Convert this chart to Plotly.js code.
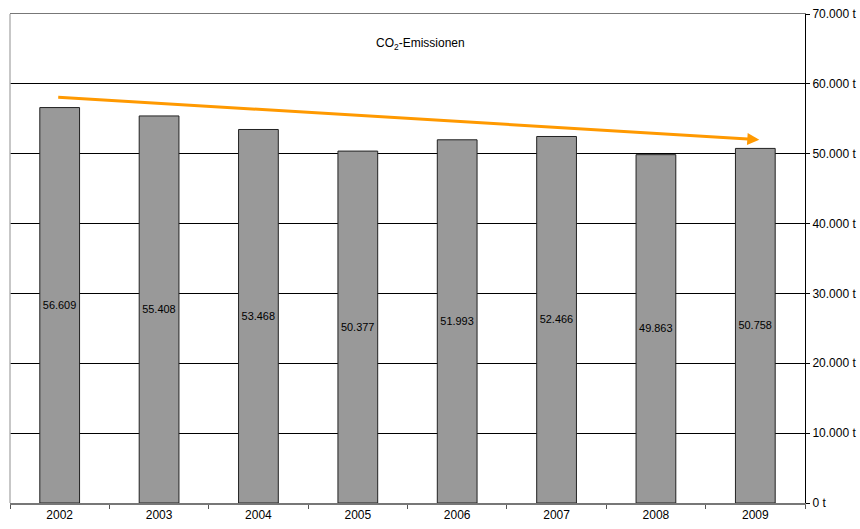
<!DOCTYPE html>
<html>
<head>
<meta charset="utf-8">
<script src="https://cdn.plot.ly/plotly-3.0.1.min.js"></script>
<style>html,body{margin:0;padding:0;background:#fff;}#chart{width:860px;height:529px;}</style>
</head>
<body>
<div id="chart"></div>
<script>
const years = ['2002','2003','2004','2005','2006','2007','2008','2009'];
const emissions = [56609, 55408, 53468, 50377, 51993, 52466, 49863, 50758];
const trendX = [-0.03, 7.04];
const trendY = [58100, 52000];
const yTicks = [0, 10000, 20000, 30000, 40000, 50000, 60000, 70000];
const yTickLabels = ['0 t', '10.000 t', '20.000 t', '30.000 t', '40.000 t', '50.000 t', '60.000 t', '70.000 t'];
const barLabels = ['56.609', '55.408', '53.468', '50.377', '51.993', '52.466', '49.863', '50.758'];

const font = {family: 'Liberation Sans, Arial, sans-serif', size: 12, color: '#000'};

const data = [{
  type: 'bar',
  x: years,
  y: emissions,
  marker: {color: '#999999', line: {color: '#222', width: 1}},
  text: barLabels,
  texttemplate: '%{text}',
  textposition: 'inside',
  insidetextanchor: 'middle',
  textangle: 0,
  textfont: {family: font.family, size: 12, color: '#000'},
  hoverinfo: 'none'
}];

const layout = {
  width: 860, height: 529,
  margin: {l: 10, r: 55, t: 14, b: 26},
  paper_bgcolor: '#fff', plot_bgcolor: '#fff',
  font: font,
  bargap: 0.6,
  showlegend: false,
  xaxis: {
    type: 'category',
    tickson: 'boundaries',
    ticks: 'outside', ticklen: 4, tickcolor: '#555',
    showline: true, linecolor: '#777', linewidth: 1.5,
    mirror: true,
    showgrid: false,
    tickfont: {family: font.family, size: 12, color: '#000'}
  },
  yaxis: {
    side: 'right',
    range: [0, 70000],
    tickmode: 'array',
    tickvals: yTicks,
    ticktext: yTickLabels,
    ticks: 'outside', ticklen: 4, tickcolor: '#000',
    showline: true, linecolor: '#000', linewidth: 1,
    showgrid: true, gridcolor: '#000', gridwidth: 1,
    zeroline: false,
    tickfont: {family: font.family, size: 12, color: '#000'}
  },
  shapes: [{
    type: 'line', xref: 'paper', yref: 'paper', x0: 0, x1: 0, y0: 0, y1: 1,
    line: {color: '#b5b5b5', width: 1.5}
  }],
  annotations: [{
    xref: 'paper', yref: 'paper', x: 0.516, y: 0.96,
    text: 'CO<sub>2</sub>-Emissionen', showarrow: false,
    font: {family: font.family, size: 12, color: '#000'}
  }, {
    x: trendX[1], y: trendY[1], xref: 'x', yref: 'y',
    ax: trendX[0], ay: trendY[0], axref: 'x', ayref: 'y',
    text: '', showarrow: true, arrowhead: 2, arrowsize: 0.8, arrowwidth: 3,
    arrowcolor: '#FF9900'
  }]
};

Plotly.newPlot('chart', data, layout, {staticPlot: true, displayModeBar: false});
</script>
</body>
</html>
